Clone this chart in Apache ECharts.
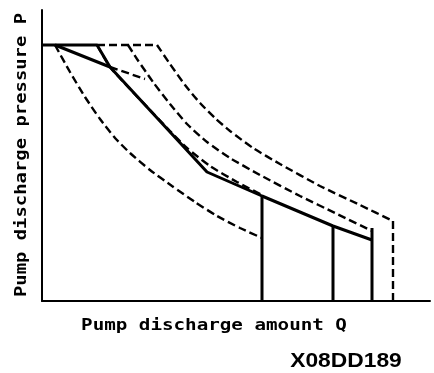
<!DOCTYPE html>
<html>
<head>
<meta charset="utf-8">
<script src="https://cdn.jsdelivr.net/npm/echarts@6/dist/echarts.min.js"></script>
<style>
  html, body { margin: 0; padding: 0; background: #fff; }
  #chart { width: 434px; height: 373px; }
</style>
</head>
<body>
<div id="chart"></div>
<script>
// Axis extents (arbitrary units of discharge amount Q and pressure P)
const qMax = 388;
const pMax = 291;

// Solid control characteristic: pressure plateau, steep start, knee and tail
const mainSolid = [[0, 256], [55, 256], [68, 234], [165, 129], [220, 105], [291, 75], [330, 61]];
// Solid chord from the start of the plateau to the first knee
const chordSolid = [[13, 256], [68, 234]];
// Dashed continuation of the chord
const chordDashed = [[68, 234], [103, 222]];
// Dashed upper plateau
const plateauDashed = [[55, 256], [115, 256]];

// Dashed constant-power curves
const curve1 = [[13, 256], [28, 229], [43, 204], [58, 182], [73, 163], [88, 148], [108, 131], [130, 115], [153, 99], [175, 85], [198, 73], [220, 63]];
const curveK = [[55, 256], [68, 234], [88, 212], [108, 191], [128, 170], [145, 153], [168, 135], [195, 119], [220, 106]];
const curve2 = [[86, 256], [95, 242], [111, 219], [128, 197], [145, 177], [165, 159], [188, 143], [218, 126], [258, 105], [293, 88], [330, 70]];
const curve3 = [[115, 256], [128, 237], [143, 216], [158, 198], [173, 183], [188, 170], [211, 153], [238, 137], [278, 115], [318, 96], [351, 80]];

// Vertical limit lines: [Q, top P]
const solidDrops = [[220, 105], [291, 75], [330, 73]];
const dashedDrops = [[351, 80]];

const solidStyle = { color: '#000', width: 3, type: 'solid' };
const dashStyle = { color: '#000', width: 2.4, type: [8, 4] };

function lineSeries(points, style, smooth) {
  return {
    type: 'line',
    data: points,
    smooth: smooth ? 0.2 : false,
    symbol: 'none',
    silent: true,
    lineStyle: style,
    z: style.type === 'solid' ? 3 : 2
  };
}

const series = [
  lineSeries(curve1, dashStyle, true),
  lineSeries(curveK, dashStyle, true),
  lineSeries(curve2, dashStyle, true),
  lineSeries(curve3, dashStyle, true),
  lineSeries(plateauDashed, dashStyle, false),
  lineSeries(chordDashed, dashStyle, false),
  lineSeries(mainSolid, solidStyle, false),
  lineSeries(chordSolid, solidStyle, false)
];
solidDrops.forEach(function (d) {
  series.push(lineSeries([[d[0], d[1]], [d[0], 0]], solidStyle, false));
});
dashedDrops.forEach(function (d) {
  series.push(lineSeries([[d[0], d[1]], [d[0], 0]], dashStyle, false));
});

const labelFont = 'bold 16px "DejaVu Sans Mono", monospace';

const chart = echarts.init(document.getElementById('chart'), null, { renderer: 'canvas' });
chart.setOption({
  backgroundColor: '#fff',
  animation: false,
  grid: { left: 42, right: 4, top: 10, bottom: 72, containLabel: false },
  xAxis: {
    type: 'value', min: 0, max: qMax,
    axisLine: { show: true, onZero: false, lineStyle: { color: '#000', width: 2 } },
    axisTick: { show: false }, axisLabel: { show: false }, splitLine: { show: false }
  },
  yAxis: {
    type: 'value', min: 0, max: pMax,
    axisLine: { show: true, onZero: false, lineStyle: { color: '#000', width: 2 } },
    axisTick: { show: false }, axisLabel: { show: false }, splitLine: { show: false }
  },
  series: series,
  graphic: [
    {
      type: 'text', x: 22, y: 155, rotation: Math.PI / 2, scaleX: 1.18,
      style: { text: 'Pump discharge pressure P', font: labelFont, fill: '#000',
               textAlign: 'center', textVerticalAlign: 'middle' }
    },
    {
      type: 'text', x: 214, y: 326, scaleX: 1.2,
      style: { text: 'Pump discharge amount Q', font: labelFont, fill: '#000',
               textAlign: 'center', textVerticalAlign: 'middle' }
    },
    {
      type: 'text', x: 346, y: 361, scaleX: 1.14,
      style: { text: 'X08DD189', font: 'bold 20px "Liberation Sans", Arial, sans-serif', fill: '#000',
               textAlign: 'center', textVerticalAlign: 'middle' }
    }
  ]
});
</script>
</body>
</html>
